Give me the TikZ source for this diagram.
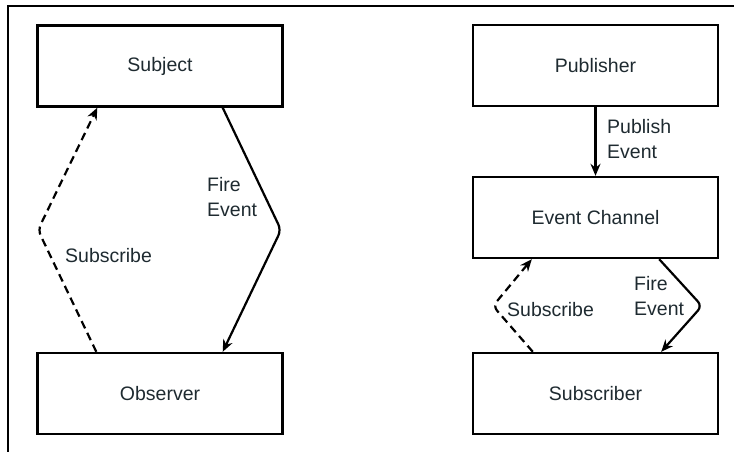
\documentclass[tikz,border=0pt]{standalone}
\usepackage{fontspec}
\setmainfont{Liberation Sans}
\usetikzlibrary{arrows.meta}
\definecolor{inktext}{RGB}{30,42,48}
\begin{document}
\begin{tikzpicture}[x=1pt,y=-1pt,
		box/.style={draw=black,line width=2.4pt,minimum width=245pt,minimum height=81pt,inner sep=0pt,text=inktext,font=\fontsize{19.5}{24}\selectfont},
		lbl/.style={text=inktext,align=left,inner sep=0pt,anchor=west,font=\fontsize{19.5}{25}\selectfont},
		conn/.style={line width=2.2pt,-{Stealth[length=12pt,width=10pt]},rounded corners=6pt},
		subs/.style={conn,dash pattern=on 8pt off 5pt}]
		\useasboundingbox (0,0) rectangle (734,452);
		\draw[line width=2.4pt] (734,6) -- (8,6) -- (8,452);
		\node[box] (subject) at (160,66) {Subject};
		\node[box] (observer) at (160,393.5) {Observer};
		\node[box] (publisher) at (595.5,65.5) {Publisher};
		\node[box] (channel) at (595.5,217.5) {Event Channel};
		\node[box] (subscriber) at (595.5,393.5) {Subscriber};
		\coordinate (fireL) at (281,230);
		\coordinate (subL) at (38,230);
		\coordinate (fireR) at (702,306);
		\coordinate (subR) at (493,306);
		\draw[conn] ([xshift=-61pt]subject.south east) -- (fireL) -- ([xshift=-61pt]observer.north east);
		\draw[subs] ([xshift=60pt]observer.north west) -- (subL) -- ([xshift=61pt]subject.south west);
		\draw[conn] (publisher) -- (channel);
		\draw[conn] ([xshift=-60pt]channel.south east) -- (fireR) -- ([xshift=-58pt]subscriber.north east);
		\draw[subs] ([xshift=61pt]subscriber.north west) -- (subR) -- ([xshift=60pt]channel.south west);
		\node[lbl] (fireLtxt) at (207,197) {Fire\\Event};
		\node[lbl] (subLtxt) at (65,256) {Subscribe};
		\node[lbl] (pubtxt) at (607,139) {Publish\\Event};
		\node[lbl] (fireRtxt) at (634,296) {Fire\\Event};
		\node[lbl] (subRtxt) at (507,310) {Subscribe};
	\end{tikzpicture}
\end{document}
